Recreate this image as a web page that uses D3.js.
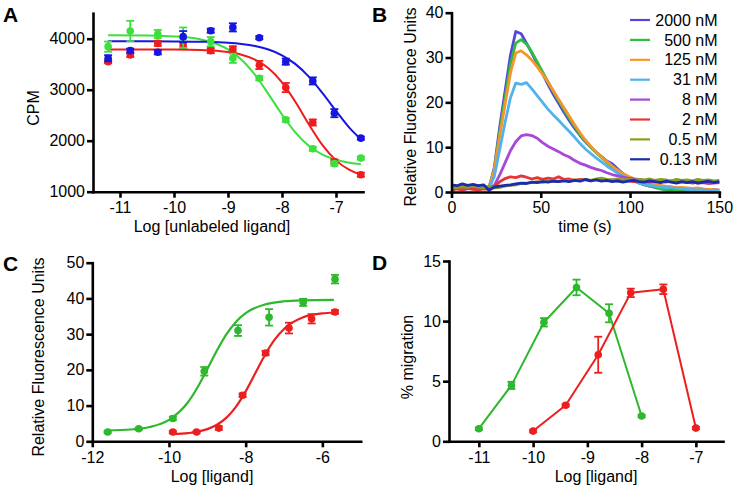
<!DOCTYPE html>
<html><head><meta charset="utf-8">
<script src="https://cdn.jsdelivr.net/npm/d3@7"></script>
<style>body{margin:0;background:#fff}svg{display:block}</style>
</head><body><svg id="c" width="736" height="497"></svg>
<script>
// ---------- Panel A: competition binding ----------
const aX = [-11.22, -10.81, -10.3, -9.83, -9.32, -8.91, -8.42, -7.93, -7.43, -7.03, -6.54];
const aBlue = [3616, 3766, 3733, 4040, 4157, 4222, 4020, 3550, 3172, 2540, 2050];
const aBlueErr = [60, 40, 40, 110, 40, 80, 30, 60, 70, 80, 30];
const aRed = [3550, 3681, 3909, 3864, 3766, 3792, 3485, 3042, 2357, 1590, 1333];
const aRedErr = [30, 40, 50, 60, 50, 60, 80, 90, 60, 40, 40];
const aGreen = [3844, 4151, 4092, 4020, 3942, 3616, 3224, 2409, 1841, 1550, 1659];
const aGreenErr = [100, 200, 80, 200, 90, 90, 40, 40, 40, 40, 30];
const aFitX = [-11.22, -10.5, -10, -9.5, -9, -8.75, -8.5, -8.25, -8, -7.75, -7.5, -7.25, -7, -6.75, -6.54];
const aBlueFit = [3950, 3950, 3947, 3940, 3920, 3896, 3856, 3788, 3675, 3501, 3252, 2934, 2585, 2250, 2029];
const aRedFit = [3790, 3789, 3787, 3777, 3737, 3686, 3591, 3421, 3146, 2759, 2317, 1913, 1614, 1426, 1331];
const aGreenFit = [4070, 4063, 4045, 3985, 3790, 3589, 3293, 2914, 2513, 2159, 1898, 1728, 1626, 1569, 1541];
const aXTicks = [-11, -10, -9, -8, -7];
const aYTicks = [1000, 2000, 3000, 4000];

// ---------- Panel B: calcium flux traces ----------
const bTime = [0,3,6,9,12,15,18,21,24,27,30,33,36,39,42,45,48,51,54,57,60,63,66,69,72,75,78,81,84,87,90,93,96,99,102,105,108,111,114,117,120,123,126,129,132,135,138,141,144,147,150];
const bLabels = ["2000 nM", "500 nM", "125 nM", "31 nM", "8 nM", "2 nM", "0.5 nM", "0.13 nM"];
const b2000 = [1.0,1.2,0.9,1.1,1.0,0.8,1.0,0.9,5.5,14.5,22.5,30.5,35.8,35.3,33.2,31,28.6,26.4,24,21.8,19.8,17.8,15.9,14.2,12.6,11.2,10,8.9,7.9,6.9,6.3,5.2,4.1,3.3,2.6,2.0,1.6,1.3,1.0,0.8,0.7,0.5,0.6,0.4,0.5,0.3,0.5,0.4,0.3,0.5,0.4];
const b500 = [0.8,1.0,1.2,0.9,1.1,1.0,0.8,1.0,5,13.5,21,28.5,33.2,34,33,31.2,29,26.8,24.6,22.5,20.4,18.4,16.4,14.6,12.8,11.3,10,8.8,7.7,6.6,5.6,4.6,3.8,3.1,2.5,2.0,1.7,1.3,1.1,0.7,0.4,0.2,0.3,0.1,0.2,0.1,0.3,0.2,0.1,0.2,0.3];
const b125 = [1.3,1.0,1.1,1.4,1.2,1.0,1.3,1.1,5,12.5,19.5,26.5,31,31.5,30.6,29.4,27.9,26.3,24.5,22.6,20.7,18.8,16.9,15,13.2,11.6,10.2,8.9,7.8,6.8,5.8,4.9,4.1,3.5,3.0,2.6,2.2,1.9,1.7,1.5,1.3,1.2,1.0,1.0,0.9,0.8,0.9,0.7,0.6,0.5,0.4];
const b31 = [0.9,1.1,0.8,1.0,1.2,0.9,1.0,0.8,3.5,9.5,15.5,21,24.3,24,24.4,23,21.5,20,18.5,17.2,16,14.7,13.5,12.2,10.8,9.6,8.6,7.6,6.7,5.8,5.0,4.2,3.5,2.9,2.4,2.0,1.7,1.5,1.3,1.1,1.0,0.9,0.8,0.7,0.6,0.5,0.4,0.5,0.3,0.4,0.3];
const b8 = [0.6,0.8,0.5,0.7,0.9,0.6,0.8,0.7,1.5,3.8,6.5,9.2,11.2,12.5,12.8,12.6,12.0,11.0,10.2,9.6,9.0,8.3,7.8,7.0,6.4,6.0,5.5,5.1,4.8,4.3,3.9,3.6,3.3,3.1,2.9,2.8,2.6,2.5,2.6,2.4,2.3,2.4,2.2,2.3,2.1,2.2,2.0,2.1,1.9,2.0,2.1];
const b2 = [0.4,0.7,0.5,0.8,0.6,0.5,0.7,0.6,1.2,2.3,3.0,3.4,3.2,3.6,3.3,2.9,3.2,2.8,3.1,2.9,3.4,2.8,2.9,2.6,2.8,2.7,2.5,2.8,2.6,2.5,2.7,2.4,2.6,2.5,2.3,2.5,2.4,2.2,2.4,2.3,2.2,2.4,2.1,2.3,2.2,2.0,2.2,2.1,2.0,2.2,2.1];
const b05 = [1.1,0.9,1.2,1.0,1.3,1.1,0.9,1.2,0.9,1.0,1.3,1.5,1.6,1.9,2.0,2.1,2.3,2.2,2.4,2.5,2.4,2.6,2.5,2.7,2.6,2.8,2.6,2.9,3.1,2.8,2.7,2.9,2.7,2.8,2.6,2.8,2.7,2.9,2.6,2.8,2.7,2.5,2.8,2.6,2.7,2.5,2.8,2.6,2.7,2.5,2.6];
const b013 = [1.6,1.4,1.8,1.5,1.7,1.4,1.6,0.4,1.1,1.3,1.5,1.6,1.8,2.0,1.9,2.2,2.1,2.3,2.2,2.4,2.3,2.5,2.3,2.6,2.4,2.8,2.5,2.7,2.4,2.6,2.3,2.5,2.2,2.4,2.6,2.3,2.2,2.5,2.3,2.1,2.4,2.2,2.0,2.3,2.1,2.3,2.0,2.2,2.4,2.1,2.3];
const bSeries = [b2000, b500, b125, b31, b8, b2, b05, b013];
const bColors = ["#5646d8", "#2fbd3d", "#f3962e", "#52b2ee", "#a848d8", "#e83434", "#86a020", "#1c2ab0"];
const bXTicks = [0, 50, 100, 150];
const bYTicks = [0, 10, 20, 30, 40];

// ---------- Panel C: dose response ----------
const cXGreen = [-11.6, -10.79, -9.9, -9.08, -8.2, -7.39, -6.5, -5.67];
const cGreen = [2.6, 3.5, 6.4, 19.6, 31.0, 34.7, 38.9, 45.4];
const cGreenErr = [0.3, 0.3, 0.5, 1.2, 1.5, 2.3, 1.0, 1.2];
const cXRed = [-9.9, -9.28, -8.7, -8.08, -7.48, -6.87, -6.28, -5.67];
const cRed = [2.6, 2.6, 3.7, 12.9, 24.7, 31.7, 34.3, 36.2];
const cRedErr = [0.3, 0.3, 0.5, 0.5, 0.6, 1.5, 1.3, 0.5];
const cGreenFitX = [-11.6, -11, -10.5, -10, -9.5, -9.25, -9, -8.75, -8.5, -8.25, -8, -7.5, -7, -6.5, -5.7];
const cGreenFit = [3.08, 3.3, 4.0, 6.0, 11.0, 15.2, 20.2, 25.4, 30.0, 33.5, 35.9, 38.3, 39.2, 39.47, 39.6];
const cRedFitX = [-9.9, -9.5, -9, -8.75, -8.5, -8.25, -8, -7.75, -7.5, -7.25, -7, -6.5, -6, -5.7];
const cRedFit = [1.99, 2.29, 3.4, 4.63, 6.64, 9.73, 13.99, 19.05, 24.1, 28.37, 31.46, 34.7, 35.8, 36.06];
const cXTicks = [-12, -10, -8, -6];
const cYTicks = [0, 10, 20, 30, 40, 50];

// ---------- Panel D: migration ----------
const dXGreen = [-11, -10.4, -9.8, -9.2, -8.6, -8.0];
const dGreen = [1.05, 4.65, 9.9, 12.8, 10.65, 2.1];
const dGreenErr = [0.1, 0.3, 0.35, 0.65, 0.75, 0.1];
const dXRed = [-10, -9.4, -8.8, -8.2, -7.6, -7.0];
const dRed = [0.85, 3.0, 7.2, 12.35, 12.65, 1.1];
const dRedErr = [0.1, 0.1, 1.5, 0.35, 0.4, 0.1];
const dXTicks = [-11, -10, -9, -8, -7];
const dYTicks = [0, 5, 10, 15];

// ---------- drawing ----------
const FONT = "'Liberation Sans', Arial, Helvetica, sans-serif";
const FS = 16;
const svg = d3.select("#c");

function drawAxes(x, y, xt, yt) {
  const gx = svg.append("g").attr("transform", `translate(0,${y.range()[0]})`)
    .call(d3.axisBottom(x).tickValues(xt).tickSize(6).tickSizeOuter(0).tickPadding(4).tickFormat(d => String(d)));
  const gy = svg.append("g").attr("transform", `translate(${x.range()[0]},0)`)
    .call(d3.axisLeft(y).tickValues(yt).tickSize(6).tickSizeOuter(0).tickPadding(2).tickFormat(d => String(d)));
  [gx, gy].forEach(g => {
    g.attr("font-size", FS).attr("font-family", FONT);
    g.select(".domain").attr("stroke", "#000").attr("stroke-width", 2.6).attr("stroke-linecap", "square");
    g.selectAll(".tick line").attr("stroke", "#000").attr("stroke-width", 2.6);
    g.selectAll(".tick text").attr("fill", "#000");
  });
}
function label(txt, x, y, rot) {
  const t = svg.append("text").attr("font-family", FONT).attr("font-size", FS).attr("fill", "#000")
    .attr("text-anchor", "middle").text(txt);
  if (rot) t.attr("transform", `translate(${x},${y}) rotate(-90)`).attr("dy", "0.35em");
  else t.attr("x", x).attr("y", y);
}
function panelLetter(txt, x, y) {
  svg.append("text").attr("font-family", FONT).attr("font-size", 21).attr("font-weight", "bold")
    .attr("x", x).attr("y", y).text(txt);
}
function points(x, y, xs, ys, errs, color, r) {
  const g = svg.append("g");
  xs.forEach((xv, i) => {
    const e = errs ? errs[i] : 0;
    if (e > 0) {
      const y1 = y(ys[i] - e), y2 = y(ys[i] + e), cx = x(xv);
      g.append("line").attr("x1", cx).attr("x2", cx).attr("y1", y1).attr("y2", y2).attr("stroke", color).attr("stroke-width", 1.8);
      [y1, y2].forEach(yy => g.append("line").attr("x1", cx - 4).attr("x2", cx + 4).attr("y1", yy).attr("y2", yy).attr("stroke", color).attr("stroke-width", 1.8));
    }
  });
  g.selectAll("circle").data(xs).join("circle")
    .attr("cx", d => x(d)).attr("cy", (d, i) => y(ys[i])).attr("r", r).attr("fill", color);
}
function curve(x, y, xs, ys, color, w, interp) {
  const line = d3.line().x(d => x(d[0])).y(d => y(d[1])).curve(interp || d3.curveMonotoneX);
  svg.append("path").attr("d", line(xs.map((v, i) => [v, ys[i]])))
    .attr("fill", "none").attr("stroke", color).attr("stroke-width", w).attr("stroke-linejoin", "round");
}

// Panel A
{
  const x = d3.scaleLinear().domain([-11.5, -6.5]).range([93, 363]);
  const y = d3.scaleLinear().domain([1000, 4500]).range([191.7, 13.2]);
  const R = "#ee1c1c", G = "#3ddf3d", B = "#1616e0";
  curve(x, y, aFitX, aRedFit, R, 2);
  curve(x, y, aFitX, aGreenFit, G, 2);
  curve(x, y, aFitX, aBlueFit, B, 2);
  points(x, y, aX, aRed, aRedErr, R, 3.8);
  points(x, y, aX, aGreen, aGreenErr, G, 3.8);
  points(x, y, aX, aBlue, aBlueErr, B, 3.8);
  drawAxes(x, y, aXTicks, aYTicks);
  label("CPM", 33, 108, true);
  label("Log [unlabeled ligand]", 212, 232, false);
  panelLetter("A", 3, 22);
}
// Panel B
{
  const x = d3.scaleLinear().domain([0, 150]).range([451.5, 719.3]);
  const y = d3.scaleLinear().domain([0, 40]).range([192, 12.7]);
  bSeries.forEach((s, k) => curve(x, y, bTime, s, bColors[k], 2.8, d3.curveLinear));
  drawAxes(x, y, bXTicks, bYTicks);
  label("Relative Fluorescence Units", 410, 107, true);
  label("time (s)", 585, 232, false);
  panelLetter("B", 372, 22);
  const lg = svg.append("g");
  bLabels.forEach((t, k) => {
    const yy = 20 + k * 19.9;
    lg.append("line").attr("x1", 630).attr("x2", 650).attr("y1", yy).attr("y2", yy).attr("stroke", bColors[k]).attr("stroke-width", 2.2);
    lg.append("text").attr("x", 717.5).attr("y", yy).attr("dy", "0.35em").attr("text-anchor", "end")
      .attr("font-family", FONT).attr("font-size", FS).attr("fill", "#000").text(t);
  });
}
// Panel C
{
  const x = d3.scaleLinear().domain([-12, -5]).range([92.3, 360.7]);
  const y = d3.scaleLinear().domain([0, 50]).range([441.3, 262.7]);
  const R = "#ec1f1f", G = "#2db82d";
  curve(x, y, cGreenFitX, cGreenFit, G, 2.2);
  curve(x, y, cRedFitX, cRedFit, R, 2.2);
  points(x, y, cXGreen, cGreen, cGreenErr, G, 3.8);
  points(x, y, cXRed, cRed, cRedErr, R, 3.8);
  drawAxes(x, y, cXTicks, cYTicks);
  label("Relative Fluorescence Units", 38, 357, true);
  label("Log [ligand]", 212, 482, false);
  panelLetter("C", 3, 271);
}
// Panel D
{
  const x = d3.scaleLinear().domain([-11.55, -6.5]).range([449, 723]);
  const y = d3.scaleLinear().domain([0, 15]).range([441.3, 261]);
  const R = "#ec1f1f", G = "#2db82d";
  curve(x, y, dXGreen, dGreen, G, 2, d3.curveLinear);
  curve(x, y, dXRed, dRed, R, 2, d3.curveLinear);
  points(x, y, dXGreen, dGreen, dGreenErr, G, 3.8);
  points(x, y, dXRed, dRed, dRedErr, R, 3.8);
  drawAxes(x, y, dXTicks, dYTicks);
  label("% migration", 407, 357, true);
  label("Log [ligand]", 596, 482, false);
  panelLetter("D", 372, 270);
}
</script>
</body></html>
